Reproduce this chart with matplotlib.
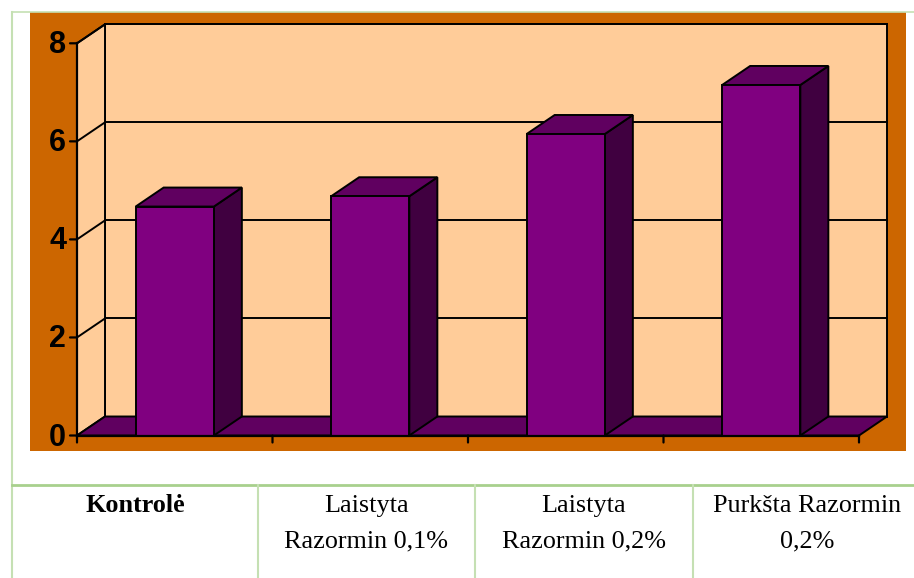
import matplotlib
matplotlib.use("Agg")
import matplotlib.pyplot as plt
from matplotlib.patches import Rectangle, Polygon
from matplotlib.lines import Line2D
from matplotlib import transforms

# ---- data ----
categories = ["Kontrolė", "Laistyta\nRazormin 0,1%", "Laistyta\nRazormin 0,2%", "Purkšta Razormin\n0,2%"]
values = [4.67, 4.88, 6.15, 7.15]
yticks = [0, 2, 4, 6, 8]

# ---- style ----
W, H = 914, 578
ORANGE = "#CC6600"
PEACH = "#FFCC99"
FRONT = "#800080"
TOP = "#600060"
SIDE = "#400040"
FLOOR = "#600060"
GREEN_H = "#A8D08D"
GREEN_V = "#C5E0B3"
DX, DY = 28, 19  # 3D depth in pixels
BAR_W = 0.4

fig = plt.figure(figsize=(W / 100, H / 100), dpi=100)
fig.patch.set_facecolor("white")


def fx(x):
    return x / W


def fy(y):
    return 1 - y / H


# orange chart area
fig.patches.append(Rectangle((fx(30), fy(451)), fx(906) - fx(30), fy(12) - fy(451),
                             transform=fig.transFigure, facecolor=ORANGE, edgecolor="none", zorder=-5))

# front plane axes
ax = fig.add_axes([fx(77), fy(435.5), fx(859) - fx(77), fy(43.3) - fy(435.5)])
ax.set_zorder(1)
ax.set_xlim(-0.5, len(categories) - 0.5)
ax.set_ylim(0, yticks[-1])
ax.axis("off")
ax.patch.set_alpha(0)

# depth offset in data units
inv = ax.transData.inverted()
p0 = ax.transData.transform((0, 0))
ddx, ddy = inv.transform((p0[0] + DX, p0[1] + DY))

x0, x1 = -0.5, len(categories) - 0.5
ymax = yticks[-1]
LW = 1.4
kw = dict(clip_on=False, joinstyle="miter")

# back wall
ax.add_patch(Polygon([(x0 + ddx, ddy), (x1 + ddx, ddy), (x1 + ddx, ymax + ddy), (x0 + ddx, ymax + ddy)],
                     closed=True, facecolor=PEACH, edgecolor="black", lw=LW, zorder=1, **kw))
# left wall
ax.add_patch(Polygon([(x0, 0), (x0, ymax), (x0 + ddx, ymax + ddy), (x0 + ddx, ddy)],
                     closed=True, facecolor=PEACH, edgecolor="black", lw=LW, zorder=1, **kw))
# gridlines
for t in yticks[1:]:
    ax.add_line(Line2D([x0 + ddx, x1 + ddx], [t + ddy, t + ddy], color="black", lw=LW, zorder=2, clip_on=False))
    ax.add_line(Line2D([x0, x0 + ddx], [t, t + ddy], color="black", lw=LW, zorder=2, clip_on=False))
# floor
ax.add_patch(Polygon([(x0, 0), (x1, 0), (x1 + ddx, ddy), (x0 + ddx, ddy)],
                     closed=True, facecolor=FLOOR, edgecolor="black", lw=LW, zorder=3, **kw))

# bars
for i, v in enumerate(values):
    l, r = i - BAR_W / 2, i + BAR_W / 2
    ax.add_patch(Polygon([(r, 0), (r, v), (r + ddx, v + ddy), (r + ddx, ddy)],
                         closed=True, facecolor=SIDE, edgecolor="black", lw=LW, zorder=4, **kw))
    ax.add_patch(Polygon([(l, v), (r, v), (r + ddx, v + ddy), (l + ddx, v + ddy)],
                         closed=True, facecolor=TOP, edgecolor="black", lw=LW, zorder=4, **kw))
    ax.add_patch(Rectangle((l, 0), BAR_W, v, facecolor=FRONT, edgecolor="black", lw=LW, zorder=5, **kw))

# axes lines and ticks
ax.add_line(Line2D([x0, x0], [0, ymax], color="black", lw=1.6, zorder=6, clip_on=False))
ax.add_line(Line2D([x0, x1], [0, 0], color="black", lw=1.6, zorder=6, clip_on=False))
lab_tr = transforms.offset_copy(ax.transData, fig, x=-11, y=-2, units="dots")
for t in yticks:
    ax.annotate("", xy=(x0, t), xycoords="data", xytext=(-7, 0), textcoords="offset pixels",
                arrowprops=dict(arrowstyle="-", color="black", lw=1.6, shrinkA=0, shrinkB=0), zorder=6)
    ax.text(x0, t, str(t), transform=lab_tr, ha="right", va="center", fontsize=22,
            fontweight="bold", family="Liberation Sans", color="black", zorder=6)
for b in [x0 + k for k in range(len(categories) + 1)]:
    ax.annotate("", xy=(b, 0), xycoords="data", xytext=(0, -7), textcoords="offset pixels",
                arrowprops=dict(arrowstyle="-", color="black", lw=1.6, shrinkA=0, shrinkB=0), zorder=6)

# ---- table below the chart ----
def hline(y, xa, xb, color, lw):
    fig.add_artist(Line2D([fx(xa), fx(xb)], [fy(y), fy(y)], transform=fig.transFigure, color=color, lw=lw))


def vline(x, ya, yb, color, lw):
    fig.add_artist(Line2D([fx(x), fx(x)], [fy(ya), fy(yb)], transform=fig.transFigure, color=color, lw=lw))


hline(12, 12, 914, GREEN_V, 1.2)
vline(12, 12, 578, GREEN_V, 1.5)
hline(484.5, 12, 914, GREEN_H, 2.0)
col_edges = [12, 258, 475, 693, 921]
for x in col_edges[1:-1]:
    vline(x, 484.5, 578, GREEN_V, 1.5)

for i, cat in enumerate(categories):
    cx = (col_edges[i] + col_edges[i + 1]) / 2
    for j, line in enumerate(cat.split("\n")):
        fig.text(fx(cx), fy(512 + 35 * j), line, ha="center", va="baseline",
                 fontsize=18.8, family="Liberation Serif",
                 fontweight="bold" if i == 0 else "normal", color="black")

fig.savefig("out.png", dpi=100, facecolor="white")
